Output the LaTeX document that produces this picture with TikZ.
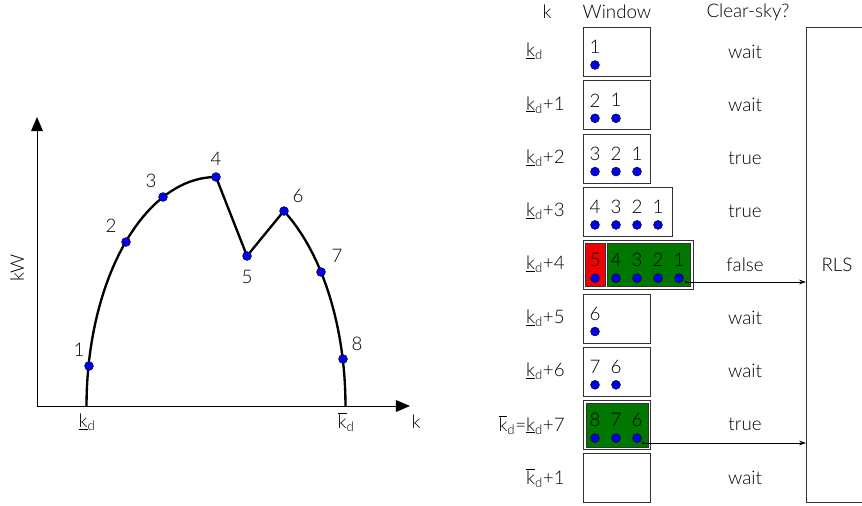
\documentclass[tikz,border=0pt]{standalone}
\usepackage{fontspec}
\setmainfont{Lato}[UprightFont=* Light]
\usetikzlibrary{arrows.meta,positioning,calc}
\definecolor{dotB}{HTML}{0000F0}
\definecolor{winG}{HTML}{007800}
\definecolor{winR}{HTML}{F00000}
\newcommand{\klo}{\underline{k}\textsubscript{d}}
\newcommand{\khi}{$\overline{\mbox{k}}$\textsubscript{d}}

\begin{document}
\begin{tikzpicture}[x=0.03cm, y=-0.03cm,
  every node/.style={font=\fontsize{16}{19}\selectfont, text=black},
  pt/.style={circle, draw=black, fill=dotB, inner sep=0pt, minimum size=7.6pt},
  axis/.style={line width=0.8pt, -{Triangle[length=12pt, width=10pt]}},
  curve/.style={line width=2pt, line join=round},
  win/.style={rectangle, draw=black!80, line width=0.7pt, anchor=north west,
              minimum height=1.47cm, inner sep=0pt},
  fillbox/.style={rectangle, draw=black!80, line width=0.6pt, anchor=north west, inner sep=0pt},
  arr/.style={-{Stealth[length=6pt, width=4pt]}, line width=0.7pt}
]
  \useasboundingbox (0,0) rectangle (862,506);

  % ---- left: power curve
  \coordinate (o) at (37,406);
  \draw[axis] (o) -- (37,117) coordinate (ytip);
  \draw[axis] (o) -- (410,406) coordinate (xtip);
  \node[rotate=90] (ylab) at (17,268) {kW};
  \node (xlab) at (416,422) {k};
  \coordinate (kl) at (86.5,406);
  \coordinate (kh) at (345.5,406);
  \node (kllab) at (87,422) {\klo};
  \node (khlab) at (346,422) {\khi};

  \coordinate (p1) at (89,366);
  \coordinate (p2) at (126,242);
  \coordinate (p3) at (163,197);
  \coordinate (p4) at (216,177);
  \coordinate (p5) at (247,256);
  \coordinate (p6) at (284,211);
  \coordinate (p7) at (321,272);
  \coordinate (p8) at (343,359);
  % clear-sky envelope: one half ellipse, broken by the cloud at 5
  \draw[curve] plot[domain=180:270, samples=40] ({216+129.5*cos(\x)}, {406+229*sin(\x)})
    -- (p5) -- plot[domain=301.6:360, samples=25] ({216+129.5*cos(\x)}, {406+229*sin(\x)});
  \foreach \i in {1,...,8} \node[pt] (c\i) at (p\i) {};
  \node (l1) at (79,350) {1};
  \node (l2) at (111,226) {2};
  \node (l3) at (151,181) {3};
  \node (l4) at (216,159) {4};
  \node (l5) at (247,277) {5};
  \node (l6) at (298,196) {6};
  \node (l7) at (337,256) {7};
  \node (l8) at (357,344) {8};

  % ---- right: sliding window table
  \node (hk) at (547,12) {k};
  \node (hwin) at (617,12) {Window};
  \node (hsky) at (748,12) {Clear-sky?};

  \node[rectangle, draw=black!80, line width=0.7pt, anchor=north west, inner sep=0pt,
        minimum width=1.92cm, minimum height=14.25cm] (rls) at (806,27) {};
  \node (rlslab) at (837,265) {RLS};

  % highlighted windows
  \node[win, minimum width=3.3cm] (w5) at (583,240.2) {};
  \node[fillbox, fill=winR, minimum width=0.6cm, minimum height=1.29cm] (r5) at (585,243) {};
  \node[fillbox, fill=winG, minimum width=2.49cm, minimum height=1.29cm] (g5) at (607,243) {};
  \node[win, minimum width=2.01cm] (w8) at (583,400.1) {};
  \node[fillbox, fill=winG, minimum width=1.86cm, minimum height=1.32cm] (g8) at (586,402.5) {};

  \foreach \r/\lst/\bw/\lab/\sky in {
      1/{1}/2.01/\klo/wait,
      2/{2,1}/2.01/\klo+1/wait,
      3/{3,2,1}/2.01/\klo+2/true,
      4/{4,3,2,1}/2.67/\klo+3/true,
      5/{5,4,3,2,1}/3.3/\klo+4/false,
      6/{6}/2.01/\klo+5/wait,
      7/{7,6}/2.01/\klo+6/wait,
      8/{8,7,6}/2.01/\llap{\khi=}\klo+7/true,
      9/{}/2.01/\khi+1/wait} {
    \pgfmathsetmacro{\rtop}{27+53.3*(\r-1)}
    \ifnum\r=5\else\ifnum\r=8\else
      \node[win, minimum width=\bw cm] (w\r) at (583,\rtop) {};
    \fi\fi
    \node[anchor=west] (k\r) at (522,\rtop+24.5) {\lab};
    \node (s\r) at (745,\rtop+24.5) {\sky};
    \foreach \v [count=\j] in \lst {
      \node (n\r-\j) at (595+21*\j-21,\rtop+20) {\v};
      \node[pt] (d\r-\j) at (595+21*\j-21,\rtop+38) {};
    }
  }

  % windows passed on to RLS
  \coordinate (o5) at (686,282);
  \coordinate (o8) at (643,443);
  \fill (o5) circle (1.3);
  \fill (o8) circle (1.3);
  \draw[arr] (o5) -- (o5 -| rls.west);
  \draw[arr] (o8) -- (o8 -| rls.west);
\end{tikzpicture}
\end{document}
